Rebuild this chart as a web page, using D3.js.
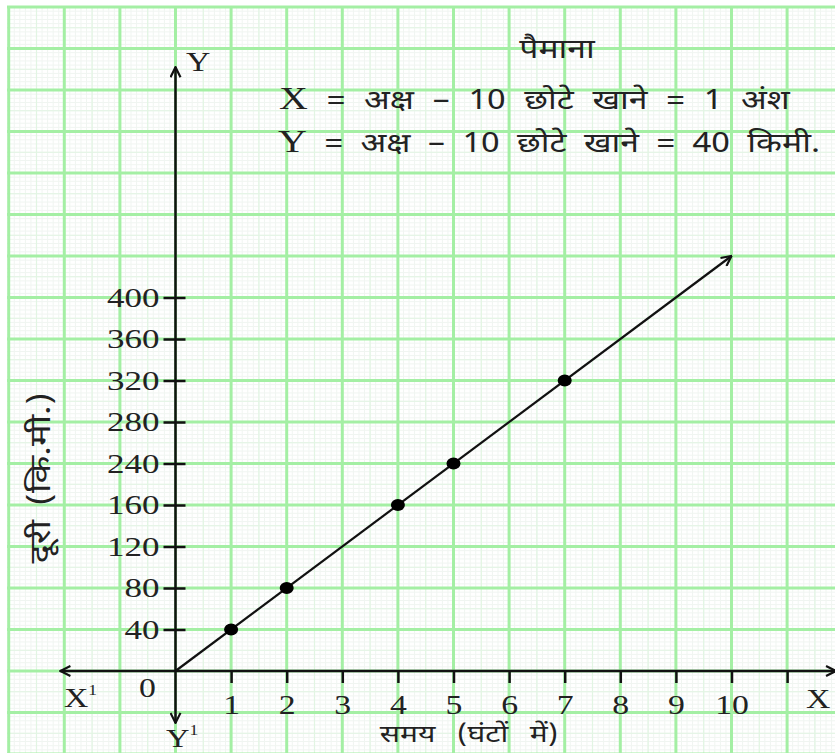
<!DOCTYPE html>
<html>
<head>
<meta charset="utf-8">
<script src="https://cdn.jsdelivr.net/npm/d3@7"></script>
<style>
  body { margin: 0; background: #fff; }
  .num { font-family: "Liberation Serif", "DejaVu Serif", serif; }
  .hin { font-family: "Noto Sans Devanagari", "Lohit Devanagari", "FreeSans", "Noto Sans", sans-serif; font-weight: 400; }
</style>
</head>
<body>
<div id="chart"></div>
<script>
// time (hours) and distance (km) of the plotted points
const hours = [1, 2, 4, 5, 7];
const distances = [40, 80, 160, 200, 280];
// end of the drawn line
const lineEnd = { hour: 10, km: 400 };

// tick labels as printed on the picture (200 is skipped there)
const xTickLabels = ["1", "2", "3", "4", "5", "6", "7", "8", "9", "10", ""];
const yTickLabels = ["40", "80", "120", "160", "240", "280", "320", "360", "400"];

const W = 835, H = 753;
const stretch = 1.25; // text in the picture is stretched sideways

const svg = d3.select("#chart").append("svg")
  .attr("width", W).attr("height", H);

const x = d3.scaleLinear().domain([0, 11]).range([175.5, 175.5 + 11 * 55.6]);
const y = d3.scaleLinear().domain([0, 400]).range([671, 671 - 10 * 41.5]);

// graph paper
const grid = svg.append("g");
const xMin = -3, xMax = 11.9, yMin = -80, yMax = 640;
function gridLines(step, color, width) {
  const xs = d3.range(Math.ceil(xMin / step), Math.floor(xMax / step) + 1).map(i => i * step);
  const ys = d3.range(Math.ceil(yMin / (step * 40)), Math.floor(yMax / (step * 40)) + 1).map(i => i * step * 40);
  grid.selectAll(null).data(xs).enter().append("line")
    .attr("x1", d => x(d)).attr("x2", d => x(d))
    .attr("y1", 7).attr("y2", H)
    .attr("stroke", color).attr("stroke-width", width);
  grid.selectAll(null).data(ys).enter().append("line")
    .attr("y1", d => y(d)).attr("y2", d => y(d))
    .attr("x1", 7).attr("x2", W)
    .attr("stroke", color).attr("stroke-width", width);
}
gridLines(0.1, "#f0f5f1", 1);
gridLines(0.5, "#e2f5e3", 1.2);
gridLines(1, "#a4efa4", 3);

// arrow marker
svg.append("defs").append("marker")
  .attr("id", "arrow")
  .attr("viewBox", "0 0 12 12")
  .attr("refX", 11).attr("refY", 6)
  .attr("markerWidth", 12).attr("markerHeight", 12)
  .attr("markerUnits", "userSpaceOnUse")
  .attr("orient", "auto")
  .append("path")
  .attr("d", "M1,1 L11,6 L1,11")
  .attr("fill", "none").attr("stroke", "#111").attr("stroke-width", 2.2);

// axes lines with arrows both ends
const axisG = svg.append("g").attr("stroke", "#111").attr("stroke-width", 2.5);
axisG.append("line")
  .attr("x1", x(0)).attr("x2", x(-2.07)).attr("y1", y(0)).attr("y2", y(0))
  .attr("marker-end", "url(#arrow)");
axisG.append("line")
  .attr("x1", x(0)).attr("x2", x(11.88)).attr("y1", y(0)).attr("y2", y(0))
  .attr("marker-end", "url(#arrow)");
axisG.append("line")
  .attr("x1", x(0)).attr("x2", x(0)).attr("y1", y(0)).attr("y2", y(582))
  .attr("marker-end", "url(#arrow)");
axisG.append("line")
  .attr("x1", x(0)).attr("x2", x(0)).attr("y1", y(0)).attr("y2", y(-50))
  .attr("marker-end", "url(#arrow)");

// x axis ticks
const xAxis = d3.axisBottom(x)
  .tickValues(d3.range(1, 12))
  .tickSize(12).tickPadding(12)
  .tickFormat((d, i) => xTickLabels[i]);
const gx = svg.append("g")
  .attr("transform", `translate(0,${y(0)})`)
  .call(xAxis);
gx.select(".domain").remove();
gx.selectAll(".tick line").attr("stroke", "#111").attr("stroke-width", 2.5);
gx.selectAll(".tick text")
  .attr("class", "num").attr("font-size", 27).attr("fill", "#222")
  .attr("font-family", null)
  .attr("transform", `scale(${stretch},1)`);

// y axis ticks (cross the axis)
const yAxis = d3.axisLeft(y)
  .tickValues(d3.range(1, 10).map(i => i * 40))
  .tickSize(12).tickPadding(4)
  .tickFormat((d, i) => yTickLabels[i]);
const gy = svg.append("g")
  .attr("transform", `translate(${x(0)},0)`)
  .call(yAxis);
gy.select(".domain").remove();
gy.selectAll(".tick line").attr("x1", 10).attr("stroke", "#111").attr("stroke-width", 2.5);
gy.selectAll(".tick text")
  .attr("class", "num").attr("font-size", 28).attr("fill", "#222")
  .attr("font-family", null)
  .attr("x", -16 / stretch)
  .attr("transform", `scale(${stretch},1)`);

// data line
svg.append("line")
  .attr("x1", x(0)).attr("y1", y(0))
  .attr("x2", x(lineEnd.hour)).attr("y2", y(lineEnd.km))
  .attr("stroke", "#111").attr("stroke-width", 2.2)
  .attr("marker-end", "url(#arrow)");

// points
svg.selectAll("ellipse.pt")
  .data(hours.map((h, i) => ({ h, d: distances[i] })))
  .enter().append("ellipse")
  .attr("class", "pt")
  .attr("cx", d => x(d.h)).attr("cy", d => y(d.d))
  .attr("rx", 7).attr("ry", 6)
  .attr("fill", "#000");

// stretched text helper
function label(cls, txt, px, py, size, anchor, rot) {
  const t = svg.append("text")
    .attr("class", cls)
    .attr("font-size", size)
    .attr("fill", "#222")
    .attr("text-anchor", anchor || "start")
    .attr("transform", `translate(${px},${py})` + (rot ? ` rotate(${rot})` : "") + ` scale(${stretch},1)`)
    .text(txt);
  return t;
}

// axis letters
label("num", "Y", 186, 71, 27);
label("num", "X", 806, 708, 27);
const xp = label("num", "X", 64, 707, 27);
xp.append("tspan").attr("font-size", 14).attr("dy", -12).text("1");
const yp = label("num", "Y", 166, 747, 26);
yp.append("tspan").attr("font-size", 14).attr("dy", -12).text("1");
label("num", "0", 139, 697, 27);

// axis titles
label("hin", "समय (घंटों में)", 469, 742, 24, "middle").attr("word-spacing", 11);
label("hin", "दूरी (कि.मी.)", 50, 478, 29, "middle", -90).attr("word-spacing", 4);

// scale note
label("hin", "पैमाना", 557, 58, 27, "middle");
const l2 = label("num", "X", 279, 109, 32).attr("word-spacing", 8);
l2.append("tspan").attr("class", "hin").attr("font-size", 27).text(" = अक्ष – 10 छोटे खाने = 1 अंश");
const l3 = label("num", "Y", 278, 152, 32).attr("word-spacing", 7);
l3.append("tspan").attr("class", "hin").attr("font-size", 27).text(" = अक्ष – 10 छोटे खाने = 40 किमी.");
</script>
</body>
</html>
